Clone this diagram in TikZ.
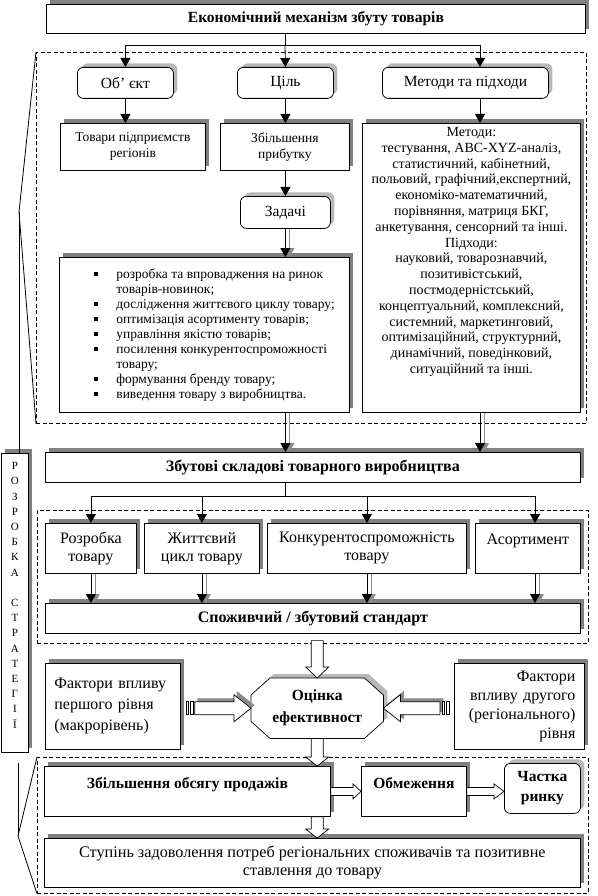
\documentclass[tikz,border=0pt]{standalone}
\usepackage{fontspec}
\setmainfont{Liberation Serif}
\usetikzlibrary{calc,arrows.meta,shadows}
\newcommand\fsz[2]{\fontsize{#1}{#2}\selectfont}
\newcommand\bl{\leavevmode\llap{\raisebox{2.5pt}{\rule{4pt}{4pt}}\hspace{18pt}}}
% vertical block arrow: [opts]{start}{tip}{shaft half}{head half}{head base y-offset from tip}
\newcommand\blkv[6][]{\filldraw[blk,#1] ($(#2)+(-#4,0)$) -- ($(#3)+(-#4,#6)$) -- ($(#3)+(-#5,#6)$) -- (#3) -- ($(#3)+(#5,#6)$) -- ($(#3)+(#4,#6)$) -- ($(#2)+(#4,0)$) -- cycle;}
% horizontal block arrow: [opts]{start}{tip}{shaft half}{head half}{head base x-offset from tip}
\newcommand\blkh[6][]{\filldraw[blk,#1] ($(#2)+(0,-#4)$) -- ($(#3)+(#6,-#4)$) -- ($(#3)+(#6,-#5)$) -- (#3) -- ($(#3)+(#6,#5)$) -- ($(#3)+(#6,#4)$) -- ($(#2)+(0,#4)$) -- cycle;}
\newcommand\octpath{($(oct.north west)+(19,0)$) -- ($(oct.north east)+(-19,0)$) -- ($(oct.north east)+(0,17)$) -- ($(oct.south east)+(0,-17)$) -- ($(oct.south east)+(-19,0)$) -- ($(oct.south west)+(19,0)$) -- ($(oct.south west)+(0,-17)$) -- ($(oct.north west)+(0,17)$) -- cycle}
\begin{document}
\begin{tikzpicture}[x=1pt,y=-1pt,
  box/.style={draw, line width=0.8pt, fill=white, anchor=north west, align=center, inner sep=2pt, font=\fsz{13.5}{16}},
  sh/.style={general shadow={fill=black!50, shadow xshift=4pt, shadow yshift=4pt}},
  hsh/.style={general shadow={fill=black!28, shadow xshift=4pt, shadow yshift=4pt}},
  rbox/.style={box, rounded corners=6pt, hsh},
  dbox/.style={draw, dash pattern=on 4pt off 2.5pt, line width=0.6pt, anchor=north west, inner sep=0pt},
  ln/.style={line width=0.8pt},
  arr/.style={ln, -{Triangle[length=9pt,width=10pt]}},
  sarr/.style={arr, color=black!45, transform canvas={xshift=4pt}},
  blk/.style={line width=0.7pt, fill=white, draw=black},
  stripe/.style={line width=0.6pt, fill=white, draw=black}
]
\useasboundingbox (0,0) rectangle (597,896);
% dashed frames
\node[dbox, minimum width=550pt, minimum height=371pt] (dashA) at (36,52) {};
\node[dbox, minimum width=551pt, minimum height=133pt] (dashB) at (37,510) {};
\node[dbox, minimum width=551pt, minimum height=136pt] (dashC) at (37,757) {};

% top part
\node[box, sh, minimum width=539pt, minimum height=29pt, font=\bfseries\fsz{15.5}{18}] (title) at (46,4) {Економічний механізм збуту товарів};
\node[rbox, minimum width=96pt, minimum height=31pt, font=\fsz{15.5}{18}] (obj) at (77,67) {Об’ єкт};
\node[rbox, minimum width=96pt, minimum height=31pt, font=\fsz{15.5}{18}] (goal) at (237,67) {Ціль};
\node[rbox, minimum width=166pt, minimum height=31pt, font=\fsz{15.5}{18}] (meth) at (382,67) {Методи та підходи};
\node[box, sh, minimum width=145pt, minimum height=47pt] (tov) at (60,123) {Товари підприємств\\регіонів};
\node[box, sh, minimum width=129pt, minimum height=47pt] (prib) at (220,123) {Збільшення\\прибутку};
\node[box, sh, inner sep=0pt, font=\fsz{14}{15.8}] (mbox) at (362,123) {\parbox[c][289pt][t]{218pt}{\centering\vspace*{4pt}Методи:\\
тестування, ABC-XYZ-аналіз,\\
статистичний, кабінетний,\\
польовий, графічний,експертний,\\
економіко-математичний,\\
порівняння, матриця БКГ,\\
анкетування, сенсорний та інші.\\
Підходи:\\
науковий, товарознавчий,\\
позитивістський,\\
постмодерністський,\\
концептуальний, комплексний,\\
системний, маркетинговий,\\
оптимізаційний, структурний,\\
динамічний, поведінковий,\\
ситуаційний та інші.}};
\node[rbox, minimum width=90pt, minimum height=32pt, font=\fsz{15.5}{18}] (task) at (240,196) {Задачі};
\node[box, sh, inner sep=0pt, font=\fsz{13.5}{15}] (bul) at (59,257) {\parbox[c][155pt][c]{290pt}{\raggedright\leftskip=57pt\relax
\bl розробка та впровадження на ринок\\
товарів-новинок;\\
\bl дослідження життєвого циклу товару;\\
\bl оптимізація асортименту товарів;\\
\bl управління якістю товарів;\\
\bl посилення конкурентоспроможності\\
товару;\\
\bl формування бренду товару;\\
\bl виведення товару з виробництва.}};

% middle part
\node[box, sh, minimum width=535pt, minimum height=30pt, font=\bfseries\fsz{16}{18}] (zbut) at (45,452) {Збутові складові товарного виробництва};
\node[box, sh, minimum width=91pt, minimum height=50pt, font=\fsz{16}{18}] (c1) at (45,523) {Розробка\\товару};
\node[box, sh, minimum width=115pt, minimum height=50pt, font=\fsz{16}{18}] (c2) at (144,523) {Життєвий\\цикл товару};
\node[box, sh, minimum width=199pt, minimum height=50pt, font=\fsz{16}{18}] (c3) at (267,523) {Конкурентоспроможність\\товару};
\node[box, sh, minimum width=105pt, minimum height=50pt, font=\fsz{16}{18}] (c4) at (475,523) {Асортимент\\\mbox{}};
\node[box, sh, minimum width=535pt, minimum height=30pt, font=\bfseries\fsz{16}{18}] (spoz) at (45,603) {Споживчий / збутовий стандарт};
\node[box, sh, minimum width=135pt, minimum height=86pt, inner xsep=9pt, text width=117pt, align=left, font=\fsz{16}{21}] (fl) at (45,663) {Фактори впливу\\першого рівня\\(макрорівень)};
\node[box, sh, minimum width=130pt, minimum height=86pt, inner xsep=9pt, text width=112pt, align=right, font=\fsz{16}{19}] (fr) at (454,663) {Фактори\\впливу другого\\(регіонального)\\рівня};
\node[box, sh, minimum width=27pt, minimum height=299pt, inner sep=0pt, font=\fsz{11}{15.2}] (roz) at (1,453) {Р\\О\\З\\Р\\О\\Б\\К\\А\\\mbox{}\\С\\Т\\Р\\А\\Т\\Е\\Г\\І\\Ї\\\mbox{}};

% octagon
\node[anchor=north west, minimum width=132pt, minimum height=60pt, inner sep=0pt] (oct) at (251,678) {};
\fill[black!28, transform canvas={shift={(4pt,4pt)}}] \octpath;
\filldraw[fill=white, line width=0.7pt] \octpath;
\node[align=center, font=\bfseries\fsz{15.5}{22}] (octtext) at (oct.center) {Оцінка\\ефективност};

% bottom part
\node[box, sh, minimum width=286pt, minimum height=50pt, font=\bfseries\fsz{15.5}{17}] (zbo) at (44,766) {Збільшення обсягу продажів\\\mbox{}};
\node[box, sh, minimum width=105pt, minimum height=50pt, font=\bfseries\fsz{15.5}{17}] (obm) at (361,766) {Обмеження\\\mbox{}};
\node[rbox, minimum width=76pt, minimum height=50pt, font=\bfseries\fsz{15.5}{20}] (chast) at (504,763) {Частка\\ринку};
\node[box, sh, minimum width=536pt, minimum height=49pt, font=\fsz{16.2}{18}] (stup) at (44,838) {Ступінь задоволення потреб регіональних споживачів та позитивне\\ставлення до товару};

% connectors top
\coordinate (j0) at (285,45);
\coordinate (jm) at (480,45);
\draw[ln] (title.south -| j0) -- (j0);
\draw[ln] (obj.north |- j0) -- (jm);
\draw[arr] (obj.north |- j0) -- (obj.north);
\draw[arr] (j0) -- (goal.north);
\draw[arr] (jm) -- (jm |- meth.north);
\draw[arr] (obj.south) -- (obj.south |- tov.north);
\draw[arr] (goal.south) -- (goal.south |- prib.north);
\draw[arr] (jm |- meth.south) -- (jm |- mbox.north);
\draw[arr] (task.north |- prib.south) -- (task.north);
\draw[sarr] (task.south) -- (task.south |- bul.north);
\draw[arr] (task.south) -- (task.south |- bul.north);
\draw[sarr] (task.south |- bul.south) -- (task.south |- zbut.north);
\draw[arr] (task.south |- bul.south) -- (task.south |- zbut.north);
\draw[sarr] (jm |- mbox.south) -- (jm |- zbut.north);
\draw[arr] (jm |- mbox.south) -- (jm |- zbut.north);

% connectors middle
\coordinate (j1) at (285,496);
\coordinate (j4) at (535,496);
\draw[ln] (zbut.south -| j1) -- (j1);
\draw[ln] (c1.north |- j1) -- (j4);
\draw[arr] (c1.north |- j1) -- (c1.north);
\draw[arr] (c2.north |- j1) -- (c2.north);
\draw[arr] (c3.north |- j1) -- (c3.north);
\draw[arr] (j4) -- (j4 |- c4.north);
\draw[sarr] (c1.south) -- (c1.south |- spoz.north);
\draw[arr] (c1.south) -- (c1.south |- spoz.north);
\draw[sarr] (c2.south) -- (c2.south |- spoz.north);
\draw[arr] (c2.south) -- (c2.south |- spoz.north);
\draw[sarr] (c3.south) -- (c3.south |- spoz.north);
\draw[arr] (c3.south) -- (c3.south |- spoz.north);
\draw[sarr] (j4 |- c4.south) -- (j4 |- spoz.north);
\draw[arr] (j4 |- c4.south) -- (j4 |- spoz.north);

% block arrows
\coordinate (a1s) at ($(oct.north |- dashB.south)+(0,-3)$);
\blkv{a1s}{oct.north}{6}{11.5}{-11}
\coordinate (a2t) at (oct.south |- zbo.north);
\blkv{oct.south}{a2t}{6}{11.5}{-9}
\coordinate (a3s) at (oct.south |- zbo.south);
\coordinate (a3t) at (oct.south |- stup.north);
\blkv{a3s}{a3t}{6}{11.5}{-9}
% factor arrows
\coordinate (lfe) at (fl.east |- oct.west);
\coordinate (lsh) at ($(lfe)+(14,0)$);
\blkh[fill=black!45, draw=black!45, transform canvas={shift={(3pt,3pt)}}]{lsh}{oct.west}{6.5}{13.5}{-17}
\blkh{lsh}{oct.west}{6.5}{13.5}{-17}
\filldraw[stripe] ($(lfe)+(5,-6.5)$) rectangle ($(lfe)+(7.5,6.5)$);
\filldraw[stripe] ($(lfe)+(9.5,-6.5)$) rectangle ($(lfe)+(12,6.5)$);
\coordinate (rfw) at (fr.west |- oct.east);
\coordinate (rsh) at ($(rfw)+(-14,0)$);
\blkh[fill=black!45, draw=black!45, transform canvas={shift={(3pt,3pt)}}]{rsh}{oct.east}{6.5}{13.5}{17}
\blkh{rsh}{oct.east}{6.5}{13.5}{17}
\filldraw[stripe] ($(rfw)+(-5,-6.5)$) rectangle ($(rfw)+(-7.5,6.5)$);
\filldraw[stripe] ($(rfw)+(-9.5,-6.5)$) rectangle ($(rfw)+(-12,6.5)$);
% bottom horizontal arrows
\coordinate (b1t) at (obm.west |- zbo.east);
\blkh{zbo.east}{b1t}{4}{7.5}{-8}
\coordinate (b2t) at (chast.west |- obm.east);
\blkh{obm.east}{b2t}{4}{7.5}{-10}

% brackets
\coordinate (ap1) at (19,212);
\draw[ln] (dashA.north west) -- (ap1) -- (dashA.south west);
\draw[ln] (ap1) -- (ap1 |- roz.north);
\coordinate (ap2t) at (18,763);
\coordinate (ap2) at (18,836);
\draw[ln] (ap2t) -- (ap2);
\draw[ln] (dashC.north west) -- (ap2) -- (dashC.south west);
\end{tikzpicture}
\end{document}
